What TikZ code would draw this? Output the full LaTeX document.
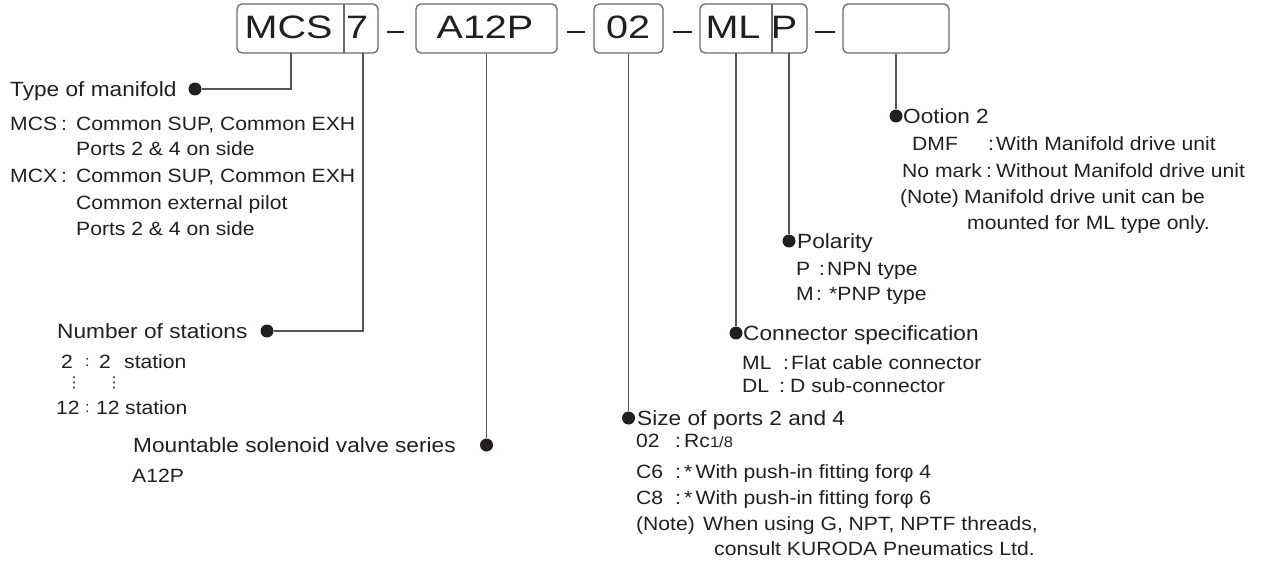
\documentclass[tikz,border=0pt]{standalone}
\usepackage{fontspec}
\setmainfont{Liberation Sans}[FakeStretch=1.1]
\newfontfamily\codefam{Liberation Sans}[FakeStretch=1.22]
\newfontfamily\symfam{DejaVu Sans}
\usetikzlibrary{positioning}

\definecolor{ink}{HTML}{231F20}
\definecolor{leadgray}{HTML}{555555}
\definecolor{boxgray}{HTML}{6A6A6A}

\newcommand\headfont{\fontsize{20.6}{24}\selectfont}
\newcommand\bodyfont{\fontsize{19.2}{23}\selectfont}
\newcommand\codefont{\codefam\fontsize{32.4}{36}\selectfont}
\newcommand\lblsmall{\fontsize{15}{17}\selectfont}

\begin{document}
\begin{tikzpicture}[x=1pt, y=-1pt,
  lbl/.style={anchor=base west, inner sep=0pt, text=ink, font=\bodyfont},
  hdr/.style={lbl, font=\headfont},
  dot/.style={circle, fill=ink, inner sep=0pt, minimum size=13pt},
  lead/.style={draw=leadgray, line width=1.3pt},
  codebox/.style={draw=boxgray, line width=1.3pt, rounded corners=5pt, minimum height=49pt, inner sep=0pt},
  code/.style={anchor=base, inner sep=0pt, text=ink, font=\codefont},
  bar/.style={draw=ink, line width=1.3pt}]
  \useasboundingbox (0,0) rectangle (1269,562);

  % --- model code boxes ---
  \node[codebox, minimum width=141pt] (bxMCS) at (307.5,28.5) {};
  \draw[draw=boxgray, line width=1.3pt] (344,4) -- (344,53);
  \node[code] (tMCS) at (288.5,38) {MCS};
  \node[code] (tSeven) at (357,38) {7};
  \draw[bar] (387,32) -- (404,32);

  \node[codebox, minimum width=141pt] (bxA12P) at (486.5,28.5) {};
  \node[code] (tA12P) at (485,38) {A12P};
  \draw[bar] (567,32) -- (585,32);

  \node[codebox, minimum width=69pt] (bxPort) at (628.5,28.5) {};
  \node[code] (tPort) at (628,38) {02};
  \draw[bar] (673,32) -- (692,32);

  \node[codebox, minimum width=107pt] (bxML) at (753.5,28.5) {};
  \draw[draw=boxgray, line width=1.3pt] (772,4) -- (772,53);
  \node[code] (tML) at (733,38) {ML};
  \node[code] (tP) at (784,38) {P};
  \draw[bar] (815,32) -- (835,32);

  \node[codebox, minimum width=106pt] (bxOpt) at (896,28.5) {};

  % taps on the lower edge of the boxes
  \coordinate (tapMCS) at (291,53);
  \coordinate (tapSeven) at (363,53);
  \coordinate (tapML) at (736,53);
  \coordinate (tapP) at (789,53);

  % --- type of manifold ---
  \node[dot] (dMCS) at (195,89) {};
  \draw[lead] (tapMCS) |- (dMCS);
  \node[hdr] (hMCS) at (10,96) {Type of manifold};
  \node[lbl] (kMCS) at (10,130) {MCS};
  \node[lbl] (cMCS) at (61,130) {:};
  \node[lbl] (vMCS) at (76,130) {Common SUP, Common EXH};
  \node[lbl] (vMCSb) at (76,155) {Ports 2 \& 4 on side};
  \node[lbl] (kMCX) at (10,182) {MCX};
  \node[lbl] (cMCX) at (61,182) {:};
  \node[lbl] (vMCX) at (76,182) {Common SUP, Common EXH};
  \node[lbl] (vMCXb) at (76,209) {Common external pilot};
  \node[lbl] (vMCXc) at (76,235) {Ports 2 \& 4 on side};

  % --- number of stations ---
  \node[dot] (dSta) at (267,331) {};
  \draw[lead] (tapSeven) |- (dSta);
  \node[hdr] (hSta) at (57,338) {Number of stations};
  \node[lbl] (kSta) at (61,368) {2};
  \node[lbl, font=\lblsmall] (cSta) at (85,366) {:};
  \node[lbl] (vSta) at (99,368) {2};
  \node[lbl] (wSta) at (124,368) {station};
  \node[inner sep=0pt, text=ink, font=\symfam\lblsmall] (eSta) at (74,383) {⋮};
  \node[inner sep=0pt, text=ink, font=\symfam\lblsmall] (fSta) at (114,383) {⋮};
  \node[lbl] (kStb) at (56,414) {12};
  \node[lbl, font=\lblsmall] (cStb) at (85,412) {:};
  \node[lbl] (vStb) at (96,414) {12};
  \node[lbl] (wStb) at (125,414) {station};

  % --- solenoid valve series ---
  \node[dot] (dVal) at (486.5,445) {};
  \draw[lead] (bxA12P.south) -- (dVal);
  \node[hdr] (hVal) at (133,452) {Mountable solenoid valve series};
  \node[lbl] (kVal) at (132,482) {A12P};

  % --- size of ports ---
  \node[dot] (dPort) at (628.5,418) {};
  \draw[lead] (bxPort.south) -- (dPort);
  \node[hdr] (hPort) at (637,425) {Size of ports 2 and 4};
  \node[lbl] (k02) at (636,447) {02};
  \node[lbl] (c02) at (675,447) {:};
  \node[lbl] (v02) at (684,447) {Rc\lblsmall 1/8};
  \node[lbl] (kC6) at (636,478) {C6};
  \node[lbl] (cC6) at (675,478) {:};
  \node[lbl] (vC6) at (684,478) {*\,With push-in fitting forφ 4};
  \node[lbl] (kC8) at (636,504) {C8};
  \node[lbl] (cC8) at (675,504) {:};
  \node[lbl] (vC8) at (684,504) {*\,With push-in fitting forφ 6};
  \node[lbl] (kNote) at (636,530) {(Note)};
  \node[lbl] (vNote) at (703,530) {When using G, NPT, NPTF threads,};
  \node[lbl] (vNoteb) at (714,555) {consult KURODA Pneumatics Ltd.};

  % --- connector specification ---
  \node[dot] (dCon) at (736,333) {};
  \draw[lead] (tapML) -- (dCon);
  \node[hdr] (hCon) at (743,340) {Connector specification};
  \node[lbl] (kML) at (742,369) {ML};
  \node[lbl] (cML) at (783,369) {:};
  \node[lbl] (vML) at (791,369) {Flat cable connector};
  \node[lbl] (kDL) at (742,392) {DL};
  \node[lbl] (cDL) at (779,392) {:};
  \node[lbl] (vDL) at (790,392) {D sub-connector};

  % --- polarity ---
  \node[dot] (dPol) at (789,241) {};
  \draw[lead] (tapP) -- (dPol);
  \node[hdr] (hPol) at (797,248) {Polarity};
  \node[lbl] (kPn) at (796,275) {P};
  \node[lbl] (cPn) at (819,275) {:};
  \node[lbl] (vPn) at (827,275) {NPN type};
  \node[lbl] (kPm) at (796,300) {M};
  \node[lbl] (cPm) at (816,300) {:};
  \node[lbl] (vPm) at (829,300) {*PNP type};

  % --- option 2 ---
  \node[dot] (dOpt) at (896,116) {};
  \draw[lead] (bxOpt.south) -- (dOpt);
  \node[hdr] (hOpt) at (903,123) {Ootion 2};
  \node[lbl] (kDMF) at (912,150) {DMF};
  \node[lbl] (cDMF) at (988,150) {:};
  \node[lbl] (vDMF) at (996,150) {With Manifold drive unit};
  \node[lbl] (kNo) at (902,177) {No mark};
  \node[lbl] (cNo) at (986,177) {:};
  \node[lbl] (vNo) at (996,177) {Without Manifold drive unit};
  \node[lbl] (kOptN) at (900,203) {(Note)};
  \node[lbl] (vOptN) at (964,203) {Manifold drive unit can be};
  \node[lbl] (vOptNb) at (967,229) {mounted for ML type only.};
\end{tikzpicture}
\end{document}
